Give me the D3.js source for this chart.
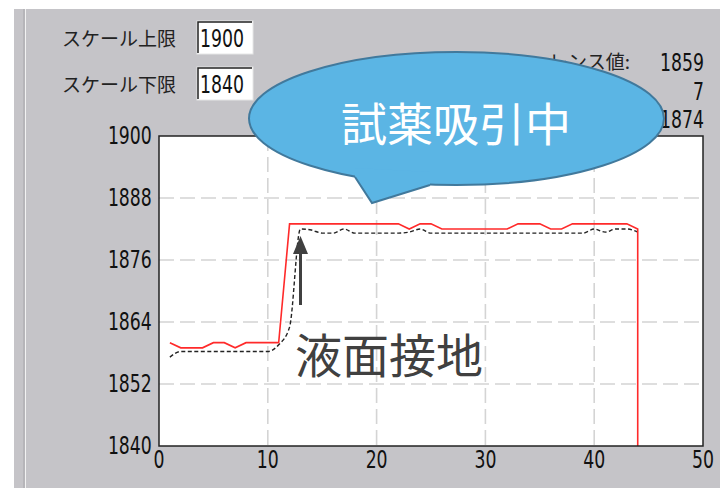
<!DOCTYPE html>
<meta charset="utf-8">
<style>
    body { margin: 0; background: #fff; }
    .num { font-family: "Liberation Sans Narrow", "DejaVu Sans Condensed", sans-serif; font-stretch: condensed; fill: #111; }
    .jp { font-family: "Noto Sans CJK JP", sans-serif; fill: #222; }
</style>
<svg width="720" height="488"></svg>

<script src="https://cdnjs.cloudflare.com/ajax/libs/d3/7.8.5/d3.min.js"></script>
<script>
    // sample number (x) and the two traces
    var sampleNo = [1, 2, 3, 4, 5, 6, 7, 8, 9, 10, 11, 12, 13, 14, 15, 16, 17, 18, 19, 20, 21, 22,
        23, 24, 25, 26, 27, 28, 29, 30, 31, 32, 33, 34, 35, 36, 37, 38, 39, 40, 41, 42, 43, 44];
    var redTrace = [1860, 1859, 1859, 1859, 1860, 1860, 1859, 1860, 1860, 1860, 1860,
        1883, 1883, 1883, 1883, 1883, 1883, 1883, 1883, 1883, 1883, 1883,
        1882, 1883, 1883, 1882, 1882, 1882, 1882, 1882, 1882, 1882,
        1883, 1883, 1883, 1882, 1882, 1883, 1883, 1883, 1883, 1883, 1883, 1882];
    var redEnd = 1840; // trace falls to the floor after the last sample
    var blackTrace = [1857.2, 1858.3, 1858.3, 1858.3, 1858.3, 1858.3, 1858.3, 1858.3, 1858.3, 1858.3,
        1859.6, 1863, 1882, 1881.8, 1881.2, 1881.2, 1882, 1881.2, 1881.2, 1881.2, 1881.2, 1881.2,
        1881.4, 1882, 1881.2, 1881.2, 1881.2, 1881.2, 1881.2, 1881.2, 1881.2, 1881.2, 1881.2,
        1881.2, 1881.2, 1881.2, 1881.2, 1881.2, 1881.2, 1882, 1881.4, 1882, 1882, 1881.4];
    var xTicks = [0, 10, 20, 30, 40, 50];
    var yTicks = [1840, 1852, 1864, 1876, 1888, 1900];
    var scaleTop = "1900", scaleBottom = "1840";
    var refValues = ["1859", "7", "1874"];

    var svg = d3.select("svg");

    // window background
    svg.append("rect").attr("width", 720).attr("height", 488).attr("fill", "#fff");
    svg.append("rect").attr("x", 14).attr("y", 9).attr("width", 706).attr("height", 479).attr("fill", "#c5c4c8");
    svg.append("line").attr("x1", 24).attr("x2", 24).attr("y1", 9).attr("y2", 488).attr("stroke", "#a7a6aa");
    svg.append("line").attr("x1", 25.5).attr("x2", 25.5).attr("y1", 9).attr("y2", 488).attr("stroke", "#f2f2f2");

    // scale limit inputs
    [["スケール上限", scaleTop, 21], ["スケール下限", scaleBottom, 67]].forEach(function(r) {
        svg.append("text").attr("class", "jp").attr("x", 62).attr("y", r[2] + 25)
            .style("font-size", "19px").text(r[0]);
        svg.append("rect").attr("x", 197).attr("y", r[2]).attr("width", 56).attr("height", 33)
            .attr("fill", "#fff").attr("stroke", "#e6e6e6");
        svg.append("path").attr("d", "M198," + (r[2] + 32) + "V" + (r[2] + 1) + "H252")
            .attr("fill", "none").attr("stroke", "#222").attr("stroke-width", 1.5);
        svg.append("text").attr("class", "num")
            .attr("transform", "translate(200," + (r[2] + 26) + ") scale(0.8,1)")
            .style("font-size", "24px").text(r[1]);
    });

    // reference values (right side)
    svg.append("text").attr("class", "jp").attr("x", 630).attr("y", 69).attr("text-anchor", "end")
        .style("font-size", "19px").text("リファレンス値:");
    refValues.forEach(function(v, i) {
        svg.append("text").attr("class", "num").attr("text-anchor", "end")
            .attr("transform", "translate(704," + (71 + i * 28.5) + ") scale(0.8,1)")
            .style("font-size", "24px").text(v);
    });

    // plot
    var margin = {left: 159, top: 136, right: 703, bottom: 446};
    var x = d3.scaleLinear().domain([0, 50]).range([margin.left, margin.right]);
    var y = d3.scaleLinear().domain([1840, 1900]).range([margin.bottom, margin.top]);

    svg.append("rect").attr("x", margin.left).attr("y", margin.top)
        .attr("width", margin.right - margin.left).attr("height", margin.bottom - margin.top)
        .attr("fill", "#fff");

    var grid = svg.append("g").attr("stroke", "#d4d4d4").attr("stroke-width", 1.6).attr("stroke-dasharray", "15,6");
    grid.selectAll(".gx").data(xTicks.slice(1, -1)).enter().append("line")
        .attr("x1", function(d) { return x(d); }).attr("x2", function(d) { return x(d); })
        .attr("y1", margin.top).attr("y2", margin.bottom);
    grid.selectAll(".gy").data(yTicks.slice(1, -1)).enter().append("line")
        .attr("y1", function(d) { return y(d); }).attr("y2", function(d) { return y(d); })
        .attr("x1", margin.left).attr("x2", margin.right);

    var blackLine = d3.line()
        .x(function(d, i) { return x(sampleNo[i]); })
        .y(function(d) { return y(d); })
        .curve(d3.curveMonotoneX);
    svg.append("path").datum(blackTrace).attr("d", blackLine)
        .attr("fill", "none").attr("stroke", "#222").attr("stroke-width", 1.4).attr("stroke-dasharray", "4,2.5");

    var redPts = redTrace.map(function(v, i) { return [sampleNo[i], v]; });
    redPts.push([sampleNo[sampleNo.length - 1], redEnd]);
    svg.append("path").datum(redPts)
        .attr("d", d3.line().x(function(d) { return x(d[0]); }).y(function(d) { return y(d[1]); }))
        .attr("fill", "none").attr("stroke", "#ff2a2a").attr("stroke-width", 1.6);

    svg.append("rect").attr("x", margin.left).attr("y", margin.top)
        .attr("width", margin.right - margin.left).attr("height", margin.bottom - margin.top)
        .attr("fill", "none").attr("stroke", "#222").attr("stroke-width", 1.5);

    var yAxis = svg.append("g").attr("transform", "translate(" + margin.left + ",0)")
        .call(d3.axisLeft(y).tickValues(yTicks).tickFormat(d3.format("d")).tickSize(0).tickPadding(9));
    var xAxis = svg.append("g").attr("transform", "translate(0," + margin.bottom + ")")
        .call(d3.axisBottom(x).tickValues(xTicks).tickFormat(d3.format("d")).tickSize(0).tickPadding(5));
    [yAxis, xAxis].forEach(function(a) {
        a.select(".domain").remove();
        a.selectAll("text").attr("class", "num").attr("transform", "scale(0.8,1)")
            .style("font-size", "24px").attr("fill", "#111");
    });
    xAxis.selectAll(".tick").each(function(d) {
        d3.select(this).attr("transform", "translate(" + x(d) + ",0)");
    });

    // callout bubble
    var bubble = svg.append("g");
    bubble.append("ellipse").attr("cx", 456.5).attr("cy", 118.5).attr("rx", 207.5).attr("ry", 66.5)
        .attr("fill", "#5bb5e4").attr("stroke", "#41799c").attr("stroke-width", 2);
    bubble.append("path").attr("d", "M355,177L372,203L430,185L430,172L355,168Z").attr("fill", "#5bb5e4");
    bubble.append("path").attr("d", "M355,177L372,203L430,185").attr("fill", "none")
        .attr("stroke", "#41799c").attr("stroke-width", 2);
    bubble.append("text").attr("x", 456).attr("y", 121).attr("text-anchor", "middle")
        .attr("dominant-baseline", "central").attr("fill", "#fff")
        .style("font-family", "'Noto Sans CJK JP', sans-serif").style("font-size", "46px").text("試薬吸引中");

    // liquid surface annotation
    svg.append("line").attr("x1", 300.5).attr("x2", 300.5).attr("y1", 305).attr("y2", 250)
        .attr("stroke", "#404040").attr("stroke-width", 3);
    svg.append("path").attr("d", "M293,254L300.5,236L308,254Z").attr("fill", "#404040");
    svg.append("text").attr("x", 389).attr("y", 352).attr("text-anchor", "middle")
        .attr("dominant-baseline", "central").attr("fill", "#404040")
        .style("font-family", "'Noto Sans CJK JP', sans-serif").style("font-size", "47px").text("液面接地");
</script>
